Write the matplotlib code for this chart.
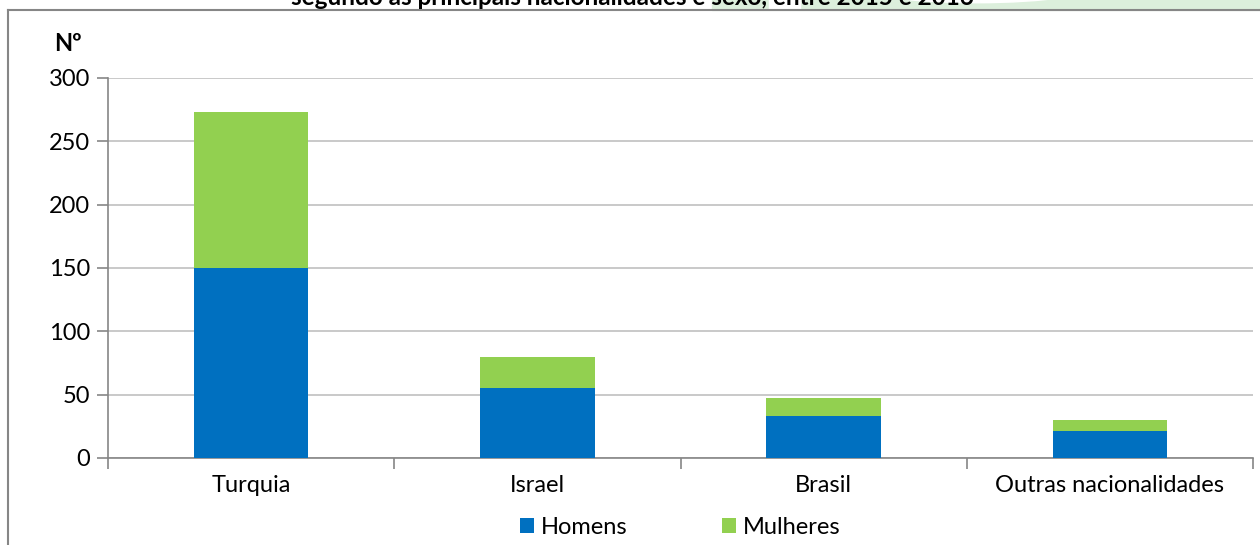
import matplotlib.pyplot as plt
from matplotlib.patches import Rectangle, Ellipse
from matplotlib.lines import Line2D

plt.rcParams['font.family'] = ['Lato', 'DejaVu Sans']

categories = ['Turquia', 'Israel', 'Brasil', 'Outras nacionalidades']
homens = [150, 55, 33, 21]
mulheres = [123, 25, 14, 9]
series_names = ['Homens', 'Mulheres']
yticks = [0, 50, 100, 150, 200, 250, 300]

blue = '#0070c0'
green = '#92d050'

fig = plt.figure(figsize=(12.6, 5.45), dpi=100)

# faint watermark behind the (cut) title
top = 1 - 10 / 545
fig.patches.append(Rectangle((0.565, top), 0.45, 0.03, transform=fig.transFigure,
                             color='#dcefdc', zorder=0))
fig.patches.append(Ellipse((0.775, 1.03), 0.2, 0.07, transform=fig.transFigure,
                           color='white', zorder=0))
fig.patches.append(Rectangle((0.61, top), 0.025, 0.03, transform=fig.transFigure,
                             color='white', zorder=0))

fig.text(0.502, 1 - 5 / 545, 'segundo as principais nacionalidades e sexo, entre 2015 e 2016',
         ha='center', va='baseline', fontsize=17.5, fontweight='bold')

# chart area border
fig.add_artist(Line2D([8 / 1260, 8 / 1260], [0, top], transform=fig.transFigure,
                      color='#868686', lw=1.5))
fig.add_artist(Line2D([8 / 1260, 1], [top, top], transform=fig.transFigure,
                      color='#868686', lw=1.5))

ax = fig.add_axes([108 / 1260, 1 - 458 / 545, (1253 - 108) / 1260, 380 / 545])
x = list(range(len(categories)))
ax.bar(x, homens, width=0.4, color=blue, label=series_names[0], zorder=3)
ax.bar(x, mulheres, width=0.4, bottom=homens, color=green, label=series_names[1], zorder=3)

ax.set_ylim(0, 300)
ax.set_xlim(-0.5, len(categories) - 0.5)
ax.set_yticks(yticks)
ax.yaxis.grid(True, color='#c0c0c0', lw=1.2, zorder=0)
ax.set_xticks(x)
ax.set_xticklabels(categories)
ax.set_xticks([i - 0.5 for i in range(len(categories) + 1)], minor=True)
ax.tick_params(axis='x', which='major', length=0, labelsize=17, pad=12)
ax.tick_params(axis='x', which='minor', length=8, color='#868686', width=1.2)
ax.tick_params(axis='y', length=8, color='#868686', width=1.2, labelsize=17, pad=5)

for s in ['top', 'right']:
    ax.spines[s].set_visible(False)
for s in ['left', 'bottom']:
    ax.spines[s].set_color('#868686')
    ax.spines[s].set_linewidth(1.2)

fig.text(68 / 1260, 1 - 43 / 545, 'Nº', ha='center', va='center', fontsize=17, fontweight='bold')

fig.legend(loc='center', bbox_to_anchor=(0.540, 1 - 527 / 545), ncol=2, frameon=False,
           fontsize=17, handlelength=0.6, handleheight=0.6, handletextpad=0.3, columnspacing=4.0)

fig.savefig('out.png', dpi=100)
